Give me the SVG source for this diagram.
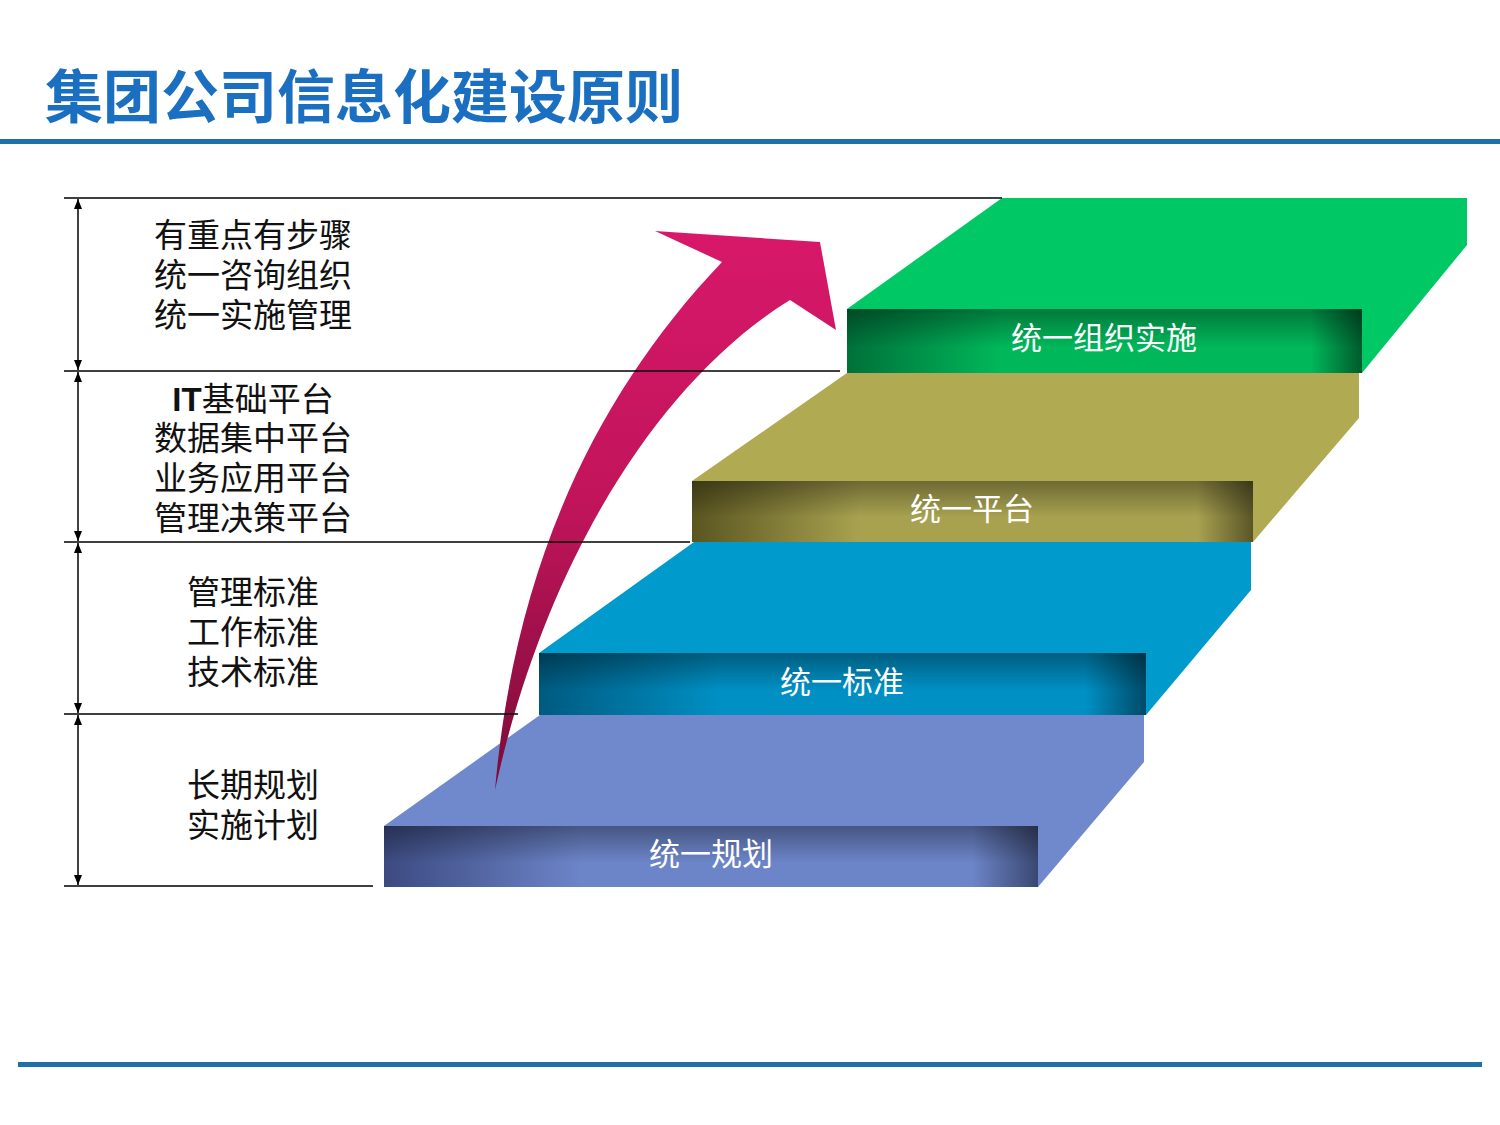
<svg xmlns="http://www.w3.org/2000/svg" width="1500" height="1125" viewBox="0 0 1500 1125">
<defs>
<style>
.t{font-family:"Liberation Sans","Noto Sans CJK SC",sans-serif}
.lt{font-size:33px;fill:#111;text-anchor:middle}
.st{font-size:31px;fill:#fff;text-anchor:middle}
.ln{stroke:#000;stroke-width:1.5}
</style>
<marker id="ah" markerWidth="10" markerHeight="10" refX="10" refY="5" orient="auto-start-reverse" viewBox="0 0 10 10" markerUnits="userSpaceOnUse"><path d="M0,1 L10,5 L0,9 Z" fill="#000"/></marker>
<linearGradient id="g4" x1="0" y1="0" x2="1" y2="0"><stop offset="0" stop-color="#00703a"/><stop offset="0.3" stop-color="#00b85a"/><stop offset="0.9" stop-color="#00b85a"/><stop offset="1" stop-color="#005a2c"/></linearGradient>
<linearGradient id="g3" x1="0" y1="0" x2="1" y2="0"><stop offset="0" stop-color="#5a5520"/><stop offset="0.3" stop-color="#a8a250"/><stop offset="0.9" stop-color="#a8a250"/><stop offset="1" stop-color="#5a5528"/></linearGradient>
<linearGradient id="g2" x1="0" y1="0" x2="1" y2="0"><stop offset="0" stop-color="#005a80"/><stop offset="0.3" stop-color="#0090c4"/><stop offset="0.9" stop-color="#0090c4"/><stop offset="1" stop-color="#004a68"/></linearGradient>
<linearGradient id="g1" x1="0" y1="0" x2="1" y2="0"><stop offset="0" stop-color="#3c4a80"/><stop offset="0.3" stop-color="#6c84c8"/><stop offset="0.9" stop-color="#6c84c8"/><stop offset="1" stop-color="#3a4870"/></linearGradient>
<linearGradient id="shade" x1="0" y1="0" x2="0" y2="1"><stop offset="0" stop-color="#000" stop-opacity="0.35"/><stop offset="0.6" stop-color="#000" stop-opacity="0"/></linearGradient>
<linearGradient id="ar" x1="0" y1="0" x2="0" y2="1"><stop offset="0" stop-color="#d8186a"/><stop offset="0.5" stop-color="#c0145a"/><stop offset="1" stop-color="#7a0c38"/></linearGradient>
</defs>
<rect width="1500" height="1125" fill="#fff"/>
<text class="t" x="45" y="118" font-size="58" font-weight="bold" fill="#1A6FC0">集团公司信息化建设原则</text>
<rect x="0" y="139" width="1500" height="5" fill="#1F6FA8"/>
<rect x="18" y="1062" width="1464" height="5" fill="#1F6FA8"/>

<g id="step1">
<polygon points="384,826 540,715 1144,715 1144,762 1038,887 384,887" fill="#7089CC"/>
<rect x="384" y="826" width="654" height="61" fill="url(#g1)"/><rect x="384" y="826" width="654" height="61" fill="url(#shade)"/>
<text class="t st" x="711" y="865">统一规划</text>
</g>
<g id="step2">
<polygon points="539,653 694,542 1251,542 1251,590 1146,715 539,715" fill="#009ACD"/>
<rect x="539" y="653" width="607" height="62" fill="url(#g2)"/><rect x="539" y="653" width="607" height="62" fill="url(#shade)"/>
<text class="t st" x="842" y="693">统一标准</text>
</g>
<g id="step3">
<polygon points="692,481 847,373 1359,373 1359,418 1253,542 692,542" fill="#B0AA52"/>
<rect x="692" y="481" width="561" height="61" fill="url(#g3)"/><rect x="692" y="481" width="561" height="61" fill="url(#shade)"/>
<text class="t st" x="972" y="520">统一平台</text>
</g>
<g id="step4">
<polygon points="847,309 1002,198 1467,198 1467,245 1362,373 847,373" fill="#00C864"/>
<rect x="847" y="309" width="515" height="64" fill="url(#g4)"/><rect x="847" y="309" width="515" height="64" fill="url(#shade)"/>
<text class="t st" x="1104" y="349">统一组织实施</text>
</g>

<g id="arrow">
<path d="M495,790 C515,560 600,390 722,262 L655,231 L820,242 L836,330 L790,300 C660,380 545,560 495,790 Z" fill="url(#ar)"/>
</g>

<g id="connectors">
<line class="ln" x1="64" y1="198" x2="1002" y2="198"/>
<line class="ln" x1="64" y1="371" x2="840" y2="371"/>
<line class="ln" x1="64" y1="542" x2="690" y2="542"/>
<line class="ln" x1="64" y1="714" x2="518" y2="714"/>
<line class="ln" x1="64" y1="886" x2="373" y2="886"/>
<line class="ln" x1="78" y1="199" x2="78" y2="370" marker-start="url(#ah)" marker-end="url(#ah)"/>
<line class="ln" x1="78" y1="372" x2="78" y2="541" marker-start="url(#ah)" marker-end="url(#ah)"/>
<line class="ln" x1="78" y1="543" x2="78" y2="713" marker-start="url(#ah)" marker-end="url(#ah)"/>
<line class="ln" x1="78" y1="715" x2="78" y2="885" marker-start="url(#ah)" marker-end="url(#ah)"/>
</g>

<g id="label4" class="t lt"><text x="253" y="247">有重点有步骤</text><text x="253" y="287">统一咨询组织</text><text x="253" y="327">统一实施管理</text></g>
<g id="label3" class="t lt"><text x="253" y="411"><tspan font-weight="bold">IT</tspan>基础平台</text><text x="253" y="450">数据集中平台</text><text x="253" y="490">业务应用平台</text><text x="253" y="530">管理决策平台</text></g>
<g id="label2" class="t lt"><text x="253" y="604">管理标准</text><text x="253" y="644">工作标准</text><text x="253" y="684">技术标准</text></g>
<g id="label1" class="t lt"><text x="253" y="797">长期规划</text><text x="253" y="837">实施计划</text></g>
</svg>
